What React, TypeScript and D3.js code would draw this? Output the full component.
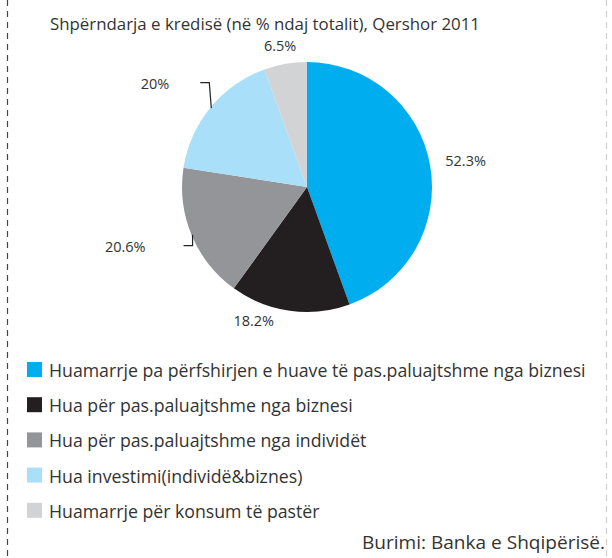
import React from "react";
import * as d3 from "d3";

const categories = [
  "Huamarrje pa përfshirjen e huave të pas.paluajtshme nga biznesi",
  "Hua për pas.paluajtshme nga biznesi",
  "Hua për pas.paluajtshme nga individët",
  "Hua investimi(individë&biznes)",
  "Huamarrje për konsum të pastër",
];
const values = [52.3, 18.2, 20.6, 20, 6.5];
const valueLabels = ["52.3%", "18.2%", "20.6%", "20%", "6.5%"];
const colors = ["#00AEEF", "#231F20", "#939598", "#A9DFF9", "#D1D3D4"];

const title = "Shpërndarja e kredisë (në % ndaj totalit), Qershor 2011";
const source = "Burimi: Banka e Shqipërisë.";

// label layout: angle offset (deg) from slice mid-angle, radius, leader gap
const labelLayout = [
  { dAngle: 0, r: 161, leader: false, gap: 0 },
  { dAngle: 14, r: 142.5, leader: false, gap: 0 },
  { dAngle: 5, r: 193, leader: true, gap: 38 },
  { dAngle: -4.5, r: 182, leader: true, gap: 31 },
  { dAngle: -0.7, r: 145.5, leader: false, gap: 0 },
];

const W = 612;
const H = 558;
const cx = 307;
const cy = 187;
const R = 125;
const FONT = "'Open Sans', 'DejaVu Sans', sans-serif";
const TEXT = "#333333";

export default function App() {
  const pie = d3
    .pie<number>()
    .sort(null)
    .value((d) => d)
    .startAngle(0)
    .endAngle(2 * Math.PI);
  const arcs = pie(values);
  const arc = d3.arc<d3.PieArcDatum<number>>().innerRadius(0).outerRadius(R);

  const polar = (angleDeg: number, r: number) => {
    const a = (angleDeg * Math.PI) / 180;
    return [cx + r * Math.sin(a), cy - r * Math.cos(a)];
  };

  const legendY = d3
    .scaleBand<number>()
    .domain(categories.map((_, i) => i))
    .range([352, 528]);

  return (
    <svg
      width={W}
      height={H}
      style={{ position: "absolute", left: 0, top: 0, background: "#fff" }}
      fontFamily={FONT}
    >
      <rect x={0} y={0} width={W} height={H} fill="#fff" />
      <line x1={7.5} x2={7.5} y1={0} y2={H} stroke="#444" strokeWidth={1.2} strokeDasharray="6,5" />
      <line x1={606.5} x2={606.5} y1={0} y2={H} stroke="#cfcfcf" strokeWidth={1.2} strokeDasharray="6,5" />

      <text x={50} y={30} fontSize={17} fill={TEXT} textLength={430} lengthAdjust="spacingAndGlyphs">
        {title}
      </text>

      <g transform={`translate(${cx},${cy})`}>
        {arcs.map((a, i) => (
          <path key={i} d={arc(a) || ""} fill={colors[i]} />
        ))}
      </g>

      {arcs.map((a, i) => {
        const mid = ((a.startAngle + a.endAngle) / 2) * (180 / Math.PI);
        const lay = labelLayout[i];
        const [lx, ly] = polar(mid + lay.dAngle, lay.r);
        if (lay.leader) {
          const [ex, ey] = polar(mid, R - 1);
          const elbowX = ex - (ey < ly ? 0 : 2);
          const pts: [number, number][] = [
            [elbowX - 9, ly],
            [elbowX, ly],
            [ex, ey],
          ];
          return (
            <g key={i}>
              <path d={d3.line()(pts) || ""} fill="none" stroke="#222" strokeWidth={1.2} />
              <text x={elbowX - 9 - lay.gap} y={ly + 6} fontSize={14.5} fill={TEXT} textAnchor="end">
                {valueLabels[i]}
              </text>
            </g>
          );
        }
        return (
          <text key={i} x={lx} y={ly + 7} fontSize={14.5} fill={TEXT} textAnchor="middle">
            {valueLabels[i]}
          </text>
        );
      })}

      {categories.map((c, i) => {
        const y = legendY(i)! + 10;
        return (
          <g key={c}>
            <rect x={27} y={y} width={15} height={15} fill={colors[i]} />
            <text
              transform={`translate(49,${y + 15}) scale(0.984,1)`}
              fontSize={18}
              fill={TEXT}
            >
              {c}
            </text>
          </g>
        );
      })}

      <text
        x={605}
        y={549}
        fontSize={18}
        fill={TEXT}
        textAnchor="end"
        textLength={243}
        lengthAdjust="spacingAndGlyphs"
      >
        {source}
      </text>
    </svg>
  );
}
